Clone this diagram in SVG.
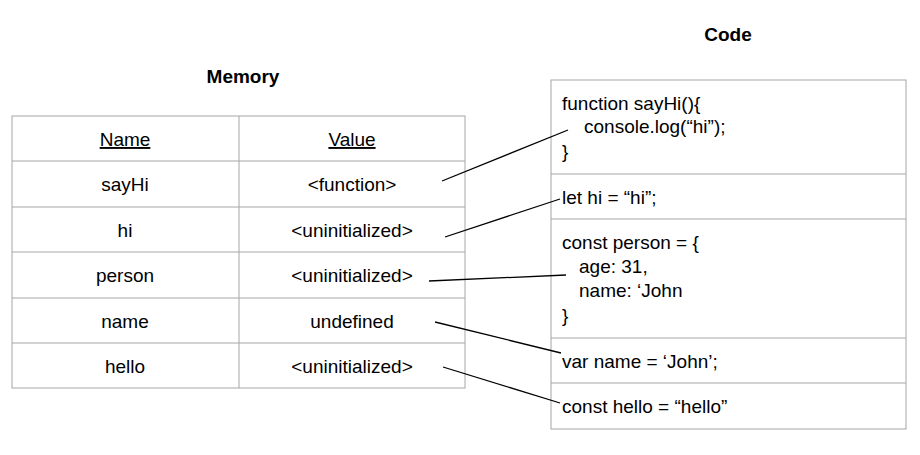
<svg xmlns="http://www.w3.org/2000/svg" width="920" height="455" viewBox="0 0 920 455">
<style>
.b{fill:#fff;stroke:#a6a6a6;stroke-width:1}
text{font-family:"Liberation Sans",Arial,sans-serif;font-size:19px;fill:#000}
.c{text-anchor:middle}
.h{font-weight:bold;text-anchor:middle;font-size:19px}
.l{stroke:#000;stroke-width:1.3;fill:none}
</style>
<rect width="920" height="455" fill="#fff"/>
<text class="h" x="728" y="41">Code</text>
<text class="h" x="243" y="83">Memory</text>
<g id="memory">
<rect class="b" x="12" y="116" width="453" height="272"/>
<line class="b" x1="239" y1="116" x2="239" y2="388"/>
<line class="b" x1="12" y1="161" x2="465" y2="161"/>
<line class="b" x1="12" y1="207" x2="465" y2="207"/>
<line class="b" x1="12" y1="252" x2="465" y2="252"/>
<line class="b" x1="12" y1="298" x2="465" y2="298"/>
<line class="b" x1="12" y1="343" x2="465" y2="343"/>
<text class="c" x="125" y="146" text-decoration="underline">Name</text>
<text class="c" x="352" y="146" text-decoration="underline">Value</text>
<text class="c" x="125" y="191">sayHi</text><text class="c" x="352" y="191">&lt;function&gt;</text>
<text class="c" x="125" y="237">hi</text><text class="c" x="352" y="237">&lt;uninitialized&gt;</text>
<text class="c" x="125" y="282">person</text><text class="c" x="352" y="282">&lt;uninitialized&gt;</text>
<text class="c" x="125" y="328">name</text><text class="c" x="352" y="328">undefined</text>
<text class="c" x="125" y="373">hello</text><text class="c" x="352" y="373">&lt;uninitialized&gt;</text>
</g>
<g id="code">
<rect class="b" x="551" y="80" width="355" height="349"/>
<line class="b" x1="551" y1="174" x2="906" y2="174"/>
<line class="b" x1="551" y1="219" x2="906" y2="219"/>
<line class="b" x1="551" y1="338" x2="906" y2="338"/>
<line class="b" x1="551" y1="383" x2="906" y2="383"/>
<text x="562" y="110">function sayHi(){</text>
<text x="584" y="133">console.log(“hi”);</text>
<text x="562" y="158">}</text>
<text x="562" y="204">let hi = “hi”;</text>
<text x="562" y="249">const person = {</text>
<text x="579" y="273">age: 31,</text>
<text x="579" y="297">name: ‘John</text>
<text x="562" y="322">}</text>
<text x="562" y="368">var name = ‘John’;</text>
<text x="562" y="413">const hello = “hello”</text>
</g>
<g id="connectors">
<line class="l" x1="442" y1="181" x2="568" y2="130"/>
<line class="l" x1="445" y1="237" x2="560" y2="199"/>
<line class="l" x1="429" y1="281" x2="566" y2="275"/>
<line class="l" x1="435" y1="322" x2="561" y2="353"/>
<line class="l" x1="443" y1="367" x2="560" y2="403"/>
</g>
</svg>
